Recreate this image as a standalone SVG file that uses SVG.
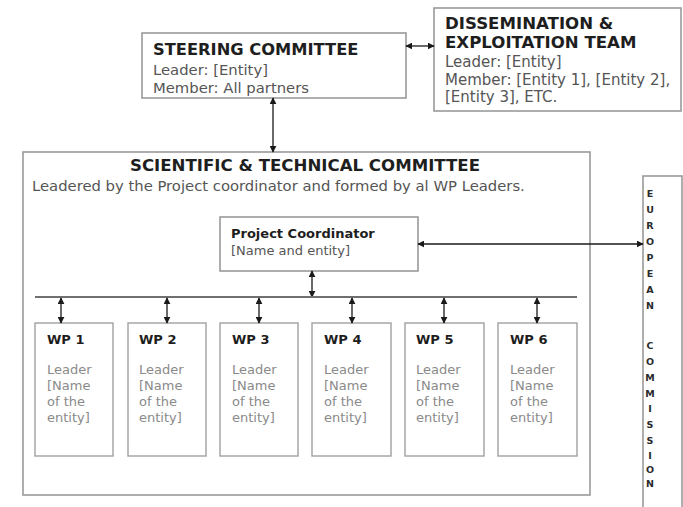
<svg xmlns="http://www.w3.org/2000/svg" width="683" height="507" viewBox="0 0 683 507">
  <style>
    .box { fill: #ffffff; stroke: #9a9a9a; stroke-width: 1.6; }
    .wp { fill: #ffffff; stroke: #a0a0a0; stroke-width: 1.4; }
    .link { stroke: #1a1a1a; stroke-width: 1.3; fill: none; marker-start: url(#tip); marker-end: url(#tip); }
    .bus { stroke: #707070; stroke-width: 2; }
    text { font-family: "DejaVu Sans", Verdana, sans-serif; }
    .t { font-weight: bold; fill: #1e1e1e; }
    .b { fill: #555555; }
    .w { fill: #8a8a8a; font-size: 13px; }
    .ec { font-weight: bold; fill: #2a2a2a; font-size: 9.5px; text-anchor: middle; }
  </style>
  <defs>
    <marker id="tip" viewBox="0 0 10 10" refX="9" refY="5" markerWidth="7" markerHeight="7" markerUnits="userSpaceOnUse" orient="auto-start-reverse">
      <path d="M0,0 L10,5 L0,10 z" fill="#1a1a1a"/>
    </marker>
  </defs>
  <rect width="683" height="507" fill="#ffffff"/>

  <g id="steering-committee">
    <rect class="box" x="142" y="33" width="264" height="65"/>
    <text class="t" x="153" y="55" font-size="16.3">STEERING COMMITTEE</text>
    <text class="b" x="153" y="75" font-size="14.8">Leader: [Entity]</text>
    <text class="b" x="153" y="93" font-size="14.8">Member: All partners</text>
  </g>

  <g id="dissemination-team">
    <rect class="box" x="434" y="8" width="247" height="103"/>
    <text class="t" x="445" y="29" font-size="16.6">DISSEMINATION &amp;</text>
    <text class="t" x="445" y="48" font-size="16.6">EXPLOITATION TEAM</text>
    <text class="b" x="445" y="67" font-size="15">Leader: [Entity]</text>
    <text class="b" x="445" y="85" font-size="15">Member: [Entity 1], [Entity 2],</text>
    <text class="b" x="445" y="102" font-size="15">[Entity 3], ETC.</text>
  </g>

  <g id="scientific-technical-committee">
    <rect class="box" x="23" y="152" width="567" height="343"/>
    <text class="t" x="305" y="171" font-size="16.6" text-anchor="middle">SCIENTIFIC &amp; TECHNICAL COMMITTEE</text>
    <text class="b" x="32" y="191" font-size="14.8">Leadered by the Project coordinator and formed by al WP Leaders.</text>
  </g>

  <g id="project-coordinator">
    <rect class="box" x="220" y="217" width="198" height="54"/>
    <text class="t" x="231" y="238" font-size="13">Project Coordinator</text>
    <text class="b" x="231" y="255" font-size="13">[Name and entity]</text>
  </g>

  <g id="wp1">
    <rect class="wp" x="35" y="323" width="78" height="133"/>
    <text class="t" x="47" y="344" font-size="13">WP 1</text>
    <text class="w" x="47" y="374">Leader</text>
    <text class="w" x="47" y="390">[Name</text>
    <text class="w" x="47" y="406">of the</text>
    <text class="w" x="47" y="422">entity]</text>
  </g>
  <g id="wp2">
    <rect class="wp" x="128" y="323" width="78" height="133"/>
    <text class="t" x="139" y="344" font-size="13">WP 2</text>
    <text class="w" x="139" y="374">Leader</text>
    <text class="w" x="139" y="390">[Name</text>
    <text class="w" x="139" y="406">of the</text>
    <text class="w" x="139" y="422">entity]</text>
  </g>
  <g id="wp3">
    <rect class="wp" x="220" y="323" width="78" height="133"/>
    <text class="t" x="232" y="344" font-size="13">WP 3</text>
    <text class="w" x="232" y="374">Leader</text>
    <text class="w" x="232" y="390">[Name</text>
    <text class="w" x="232" y="406">of the</text>
    <text class="w" x="232" y="422">entity]</text>
  </g>
  <g id="wp4">
    <rect class="wp" x="312" y="323" width="79" height="133"/>
    <text class="t" x="324" y="344" font-size="13">WP 4</text>
    <text class="w" x="324" y="374">Leader</text>
    <text class="w" x="324" y="390">[Name</text>
    <text class="w" x="324" y="406">of the</text>
    <text class="w" x="324" y="422">entity]</text>
  </g>
  <g id="wp5">
    <rect class="wp" x="405" y="323" width="79" height="133"/>
    <text class="t" x="416" y="344" font-size="13">WP 5</text>
    <text class="w" x="416" y="374">Leader</text>
    <text class="w" x="416" y="390">[Name</text>
    <text class="w" x="416" y="406">of the</text>
    <text class="w" x="416" y="422">entity]</text>
  </g>
  <g id="wp6">
    <rect class="wp" x="498" y="323" width="79" height="133"/>
    <text class="t" x="510" y="344" font-size="13">WP 6</text>
    <text class="w" x="510" y="374">Leader</text>
    <text class="w" x="510" y="390">[Name</text>
    <text class="w" x="510" y="406">of the</text>
    <text class="w" x="510" y="422">entity]</text>
  </g>

  <g id="european-commission">
    <rect class="box" x="643" y="176" width="39" height="340"/>
    <text class="ec" x="650" y="197">E</text>
    <text class="ec" x="650" y="213">U</text>
    <text class="ec" x="650" y="229">R</text>
    <text class="ec" x="650" y="245">O</text>
    <text class="ec" x="650" y="261">P</text>
    <text class="ec" x="650" y="277">E</text>
    <text class="ec" x="650" y="293">A</text>
    <text class="ec" x="650" y="309">N</text>
    <text class="ec" x="650" y="349">C</text>
    <text class="ec" x="650" y="365">O</text>
    <text class="ec" x="650" y="381">M</text>
    <text class="ec" x="650" y="397">M</text>
    <text class="ec" x="650" y="412">I</text>
    <text class="ec" x="650" y="428">S</text>
    <text class="ec" x="650" y="444">S</text>
    <text class="ec" x="650" y="459">I</text>
    <text class="ec" x="650" y="473">O</text>
    <text class="ec" x="650" y="487">N</text>
  </g>

  <g id="connectors">
    <line class="link" x1="406" y1="46" x2="434" y2="46"/>
    <line class="link" x1="273" y1="98" x2="273" y2="152"/>
    <line class="link" x1="418" y1="244" x2="643" y2="244"/>
    <line class="link" x1="312" y1="271" x2="312" y2="297"/>
    <line class="bus" x1="35" y1="297" x2="577" y2="297"/>
    <line class="link" x1="61" y1="298" x2="61" y2="323"/>
    <line class="link" x1="167" y1="298" x2="167" y2="323"/>
    <line class="link" x1="259" y1="298" x2="259" y2="323"/>
    <line class="link" x1="352" y1="298" x2="352" y2="323"/>
    <line class="link" x1="444" y1="298" x2="444" y2="323"/>
    <line class="link" x1="537" y1="298" x2="537" y2="323"/>
  </g>
</svg>
